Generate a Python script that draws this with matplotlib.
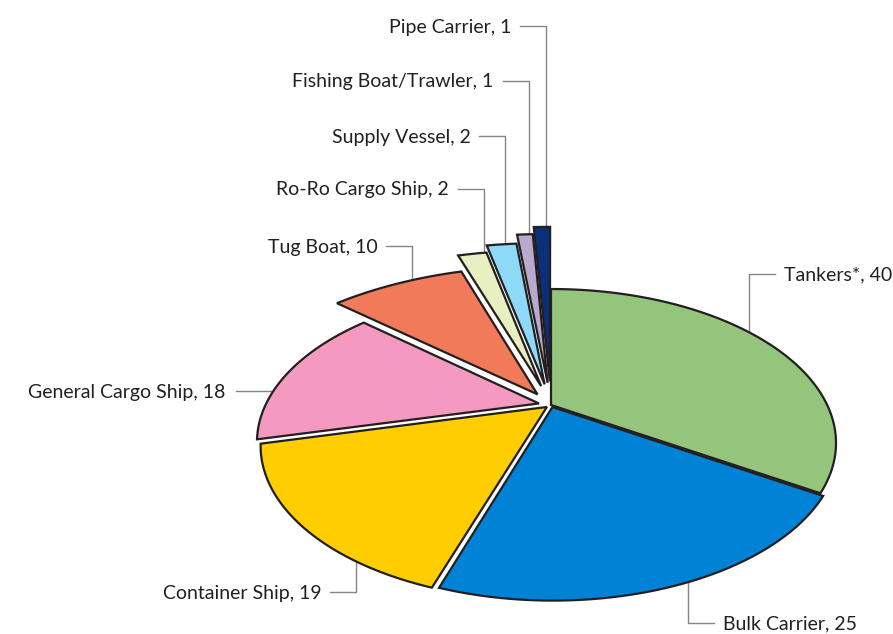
import numpy as np
import matplotlib
matplotlib.use("Agg")
import matplotlib.pyplot as plt
from matplotlib.patches import Polygon

# Ship types and counts, clockwise from 12 o'clock
categories = ["Tankers*", "Bulk Carrier", "Container Ship", "General Cargo Ship",
              "Tug Boat", "Ro-Ro Cargo Ship", "Supply Vessel",
              "Fishing Boat/Trawler", "Pipe Carrier"]
counts = [40, 25, 19, 18, 10, 2, 2, 1, 1]

# Slice styling
colors = ["#95c47c", "#0082d6", "#ffcd00", "#f49ac1", "#f07a5a",
          "#e8efc0", "#8ed8f8", "#b9a9cf", "#0b2f78"]
explode = [0.0, 0.015, 0.02, 0.045, 0.09, 0.14, 0.15, 0.16, 0.17]
reach = [1.0, 1.0, 1.0, 0.99, 1.18, 1.32, 1.40, 1.51, 1.60]

# Leader layout: where on the arc the leader starts, label row, side
attach = [0.45, 0.47, 0.25, 0.34, 0.62, 0.9, 0.63, 0.74, 0.75]
label_row = [274, 623, 592, None, 246, 189, 136, 81, 26]
label_side = ["right", "right", "left", "left", "left", "left", "left", "left", "left"]

INK = "#231f20"
LEADER = "#858585"

# Perspective view of the pie disc, in pixel units of the figure
CX, CY = 551.0, 405.0
SX, SY, K = 276.2, 144.6, 0.2468


def project(u, v):
    d = 1.0 + K * v
    return CX + SX * u / d, CY - SY * v / d


fig = plt.figure(figsize=(8.93, 6.34), dpi=100)
ax = fig.add_axes([0, 0, 1, 1])
ax.set_xlim(0, 893)
ax.set_ylim(634, 0)
ax.axis("off")

vals = np.asarray(counts, dtype=float)
sweep = vals / vals.sum() * 360.0
ends = 90.0 - np.cumsum(sweep)
starts = ends + sweep

plt.rcParams["font.family"] = ["Lato", "DejaVu Sans"]

for i, (cat, n) in enumerate(zip(categories, counts)):
    mid = np.deg2rad((starts[i] + ends[i]) / 2.0)
    ou, ov = explode[i] * np.cos(mid), explode[i] * np.sin(mid)
    th = np.deg2rad(np.linspace(starts[i], ends[i], 90))
    u = np.concatenate([[ou], ou + reach[i] * np.cos(th)])
    v = np.concatenate([[ov], ov + reach[i] * np.sin(th)])
    x, y = project(u, v)
    ax.add_patch(Polygon(np.column_stack([x, y]), closed=True,
                         facecolor=colors[i], edgecolor=INK, linewidth=1.6,
                         joinstyle="miter", zorder=3))

    # leader line from the slice rim to its label
    ta = np.deg2rad(starts[i] - attach[i] * sweep[i])
    px, py = project(ou + reach[i] * np.cos(ta), ov + reach[i] * np.sin(ta))
    text = f"{cat}, {n}"
    if label_row[i] is None:
        ax.plot([px, px - 37], [py, py], color=LEADER, lw=1.0, zorder=1)
        ax.text(px - 48, py + 6.5, text, ha="right", va="baseline",
                fontsize=14, color=INK)
        continue
    ly = label_row[i]
    sgn = 1 if label_side[i] == "right" else -1
    ax.plot([px, px, px + sgn * 26], [py, ly, ly], color=LEADER, lw=1.0,
            zorder=1)
    ax.text(px + sgn * 35, ly + 6.5, text,
            ha="left" if sgn > 0 else "right", va="baseline",
            fontsize=14, color=INK)

fig.savefig("out.png", dpi=100)
